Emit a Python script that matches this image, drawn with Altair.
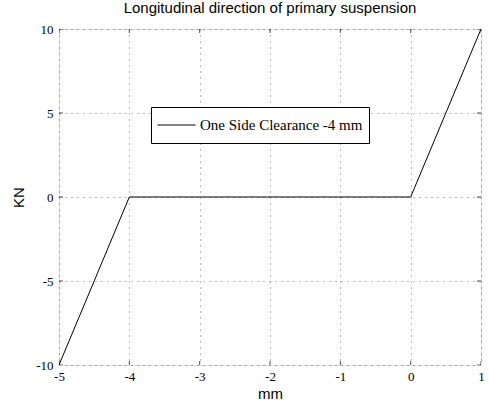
import altair as alt
import pandas as pd

# data
disp_mm = [-5, -4, 0, 1]
force_kn = [-10, 0, 0, 10]
series_name = "One Side Clearance -4 mm"
x_ticks = [-5, -4, -3, -2, -1, 0, 1]
y_ticks = [-10, -5, 0, 5, 10]

df = pd.DataFrame({"x": disp_mm, "y": force_kn, "s": [series_name] * len(disp_mm)})
xt = pd.DataFrame({"x": x_ticks})
yt = pd.DataFrame({"y": y_ticks})

W, H = 422, 336
xscale = alt.Scale(domain=[-5, 1], nice=False, zero=False)
yscale = alt.Scale(domain=[-10, 10], nice=False, zero=False)

common_axis = dict(grid=True, gridDash=[1, 5], gridColor="#000", gridOpacity=0.55,
                   tickSize=0, domain=False, labelFont="Liberation Serif", labelFontSize=13,
                   labelColor="#000", titleFont="Liberation Sans", titleFontSize=15,
                   titleFontWeight="normal", titleColor="#000", labelFlush=False,
                   labelExpr="'' + datum.value")

line = alt.Chart(df).mark_line(strokeWidth=1, clip=True, color="#000").encode(
    x=alt.X("x:Q", scale=xscale,
            axis=alt.Axis(values=x_ticks, title="mm", labelPadding=5, titlePadding=3, **common_axis)),
    y=alt.Y("y:Q", scale=yscale,
            axis=alt.Axis(values=y_ticks, title="KN", labelPadding=6, titlePadding=9, **common_axis)),
    color=alt.Color("s:N", scale=alt.Scale(range=["#000"]),
                    legend=alt.Legend(title=None, orient="none", legendX=92, legendY=78,
                                      strokeColor="#000", fillColor="#fff", padding=6,
                                      symbolType="stroke", symbolSize=1444, symbolStrokeWidth=1,
                                      clipHeight=24,
                                      labelFont="Liberation Serif", labelFontSize=15,
                                      labelColor="#000", labelOffset=4, cornerRadius=0,
                                      labelLimit=400)),
)

tick_style = dict(color="#000", thickness=1, size=8, clip=True)
xb = alt.Chart(xt).mark_tick(orient="vertical", **tick_style).encode(x=alt.X("x:Q", scale=xscale), y=alt.value(H))
xtop = alt.Chart(xt).mark_tick(orient="vertical", **tick_style).encode(x=alt.X("x:Q", scale=xscale), y=alt.value(0))
yl = alt.Chart(yt).mark_tick(orient="horizontal", **tick_style).encode(y=alt.Y("y:Q", scale=yscale), x=alt.value(0))
yr = alt.Chart(yt).mark_tick(orient="horizontal", **tick_style).encode(y=alt.Y("y:Q", scale=yscale), x=alt.value(W))

chart = alt.layer(line, xb, xtop, yl, yr).properties(
    width=W, height=H,
    title=alt.Title("Longitudinal direction of primary suspension", font="Liberation Sans",
                    fontSize=15, fontWeight="normal", color="#000", offset=7),
    autosize=alt.AutoSizeParams(type="none"),
    padding={"left": 59, "top": 29, "right": 8, "bottom": 38},
).configure_view(stroke="#000", strokeWidth=1).configure(background="#fff")

chart.save("out.html", embed_options={"renderer": "svg", "actions": False})
